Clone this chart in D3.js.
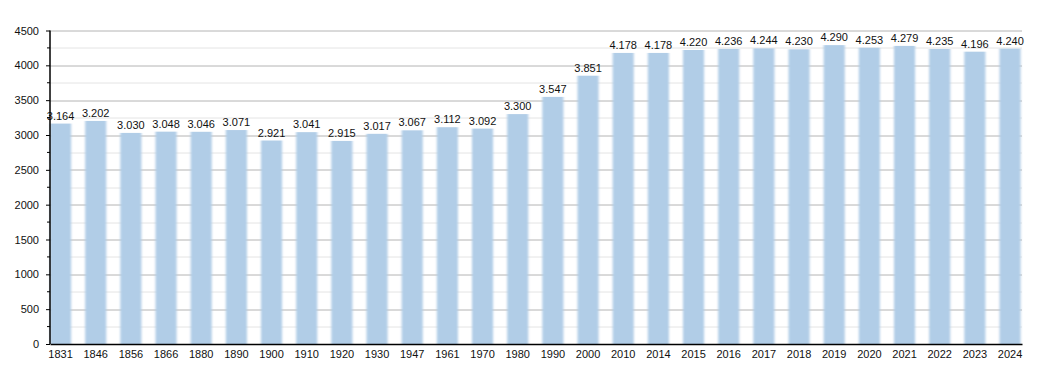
<!DOCTYPE html>
<html>
<head>
<meta charset="utf-8">
<script src="https://cdn.jsdelivr.net/npm/d3@7"></script>
<style>
body{margin:0;background:#fff;}
text{font-family:"Liberation Sans",Arial,sans-serif;}
</style>
</head>
<body>
<svg id="chart"></svg>
<script>
//years along the bottom
var years=["1831","1846","1856","1866","1880","1890","1900","1910","1920","1930","1947","1961","1970","1980","1990","2000","2010","2014","2015","2016","2017","2018","2019","2020","2021","2022","2023","2024"]
//population for each year
var population=[3164,3202,3030,3048,3046,3071,2921,3041,2915,3017,3067,3112,3092,3300,3547,3851,4178,4178,4220,4236,4244,4230,4290,4253,4279,4235,4196,4240]
//labels written above each bar
var valueLabels=["3.164","3.202","3.030","3.048","3.046","3.071","2.921","3.041","2.915","3.017","3.067","3.112","3.092","3.300","3.547","3.851","4.178","4.178","4.220","4.236","4.244","4.230","4.290","4.253","4.279","4.235","4.196","4.240"]
var majorTicks=[0,500,1000,1500,2000,2500,3000,3500,4000,4500]
var minorTicks=[250,750,1250,1750,2250,2750,3250,3750,4250]

var screen={width:1050,height:373}
var margins={left:50,right:28,top:30.5,bottom:29}
var graph={
    width:screen.width-margins.left-margins.right,
    height:screen.height-margins.top-margins.bottom
}

var svg=d3.select("#chart")
    .attr("width",screen.width)
    .attr("height",screen.height)

var target=svg.append("g")
    .attr("transform","translate("+margins.left+","+margins.top+")")

var xScale=d3.scaleBand()
    .domain(years)
    .range([0,graph.width])
    .paddingInner(0.4)
    .paddingOuter(0.02)
    .align(0)

var yScale=d3.scaleLinear()
    .domain([0,4500])
    .range([graph.height,0])

//light gridlines
target.selectAll(".minor")
    .data(minorTicks)
    .enter()
    .append("line")
    .attr("x1",0)
    .attr("x2",graph.width)
    .attr("y1",function(d){return Math.round(yScale(d))+0.5})
    .attr("y2",function(d){return Math.round(yScale(d))+0.5})
    .attr("stroke","#e4e4e4")

//darker gridlines
target.selectAll(".major")
    .data(majorTicks.slice(1))
    .enter()
    .append("line")
    .attr("x1",0)
    .attr("x2",graph.width)
    .attr("y1",function(d){return Math.round(yScale(d))+0.5})
    .attr("y2",function(d){return Math.round(yScale(d))+0.5})
    .attr("stroke","#b4b4b4")

//soft bar edges
var defs=svg.append("defs")
defs.append("filter")
    .attr("id","soft")
    .attr("x","-20%").attr("width","140%")
    .append("feGaussianBlur")
    .attr("stdDeviation","0.8 0")

target.selectAll(".bar")
    .data(population)
    .enter()
    .append("rect")
    .attr("x",function(d,i){return xScale(years[i])})
    .attr("width",xScale.bandwidth())
    .attr("y",function(d){return yScale(d)})
    .attr("height",function(d){return graph.height-yScale(d)})
    .attr("fill","#b1cde7")
    .attr("filter","url(#soft)")

target.selectAll(".val")
    .data(valueLabels)
    .enter()
    .append("text")
    .attr("x",function(d,i){return xScale(years[i])+xScale.bandwidth()/2})
    .attr("y",function(d,i){return yScale(population[i])-4})
    .attr("text-anchor","middle")
    .attr("font-size","11px")
    .attr("fill","#111")
    .text(function(d){return d})

//axes
var xAxis=d3.axisBottom(xScale).tickSize(0).tickPadding(6)
var xg=target.append("g")
    .attr("transform","translate(0,"+graph.height+")")
    .call(xAxis)
xg.select(".domain").attr("stroke","#000").attr("stroke-width",1.5)
xg.selectAll("text").attr("font-size","11px").attr("fill","#111")
    .attr("font-family","Liberation Sans,Arial,sans-serif")

var yAxis=d3.axisLeft(yScale).tickValues(majorTicks).tickFormat(d3.format("d")).tickSize(4).tickPadding(7)
var yg=target.append("g").call(yAxis)
yg.select(".domain").attr("stroke","#000").attr("stroke-width",1.5).attr("d","M0,"+graph.height+"V0")
yg.selectAll("text").attr("font-size","11px").attr("fill","#111")
    .attr("font-family","Liberation Sans,Arial,sans-serif")
yg.selectAll(".minortick")
    .data(minorTicks)
    .enter()
    .append("line")
    .attr("x1",-3).attr("x2",0)
    .attr("y1",function(d){return yScale(d)})
    .attr("y2",function(d){return yScale(d)})
    .attr("stroke","#000")
</script>
</body>
</html>
